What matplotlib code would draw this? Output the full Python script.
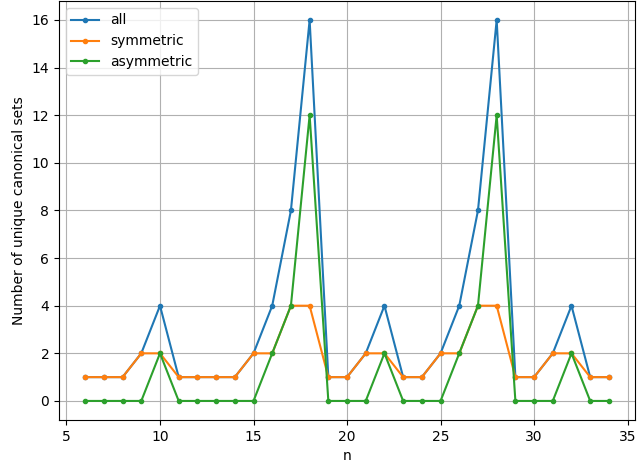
import matplotlib
matplotlib.use("Agg")
import matplotlib.pyplot as plt

# chart data
n_values = list(range(6, 35))
all_sets = [1, 1, 1, 2, 4, 1, 1, 1, 1, 2, 4, 8, 16, 1, 1, 2, 4, 1, 1, 2, 4, 8, 16, 1, 1, 2, 4, 1, 1]
symmetric_sets = [1, 1, 1, 2, 2, 1, 1, 1, 1, 2, 2, 4, 4, 1, 1, 2, 2, 1, 1, 2, 2, 4, 4, 1, 1, 2, 2, 1, 1]
asymmetric_sets = [0, 0, 0, 0, 2, 0, 0, 0, 0, 0, 2, 4, 12, 0, 0, 0, 2, 0, 0, 0, 2, 4, 12, 0, 0, 0, 2, 0, 0]

fig, ax = plt.subplots(figsize=(6.37, 4.65), dpi=100)

ax.plot(n_values, all_sets, marker='.', label='all')
ax.plot(n_values, symmetric_sets, marker='.', label='symmetric')
ax.plot(n_values, asymmetric_sets, marker='.', label='asymmetric')

ax.set_xlabel('n')
ax.set_ylabel('Number of unique canonical sets')
ax.set_yticks(range(0, 17, 2))
ax.grid(True)
ax.legend(loc='upper left')

# axes fill almost the whole picture, like the cropped original
fig.subplots_adjust(left=0.0926, right=0.997, top=0.998, bottom=0.0968)
fig.savefig('out.png')
